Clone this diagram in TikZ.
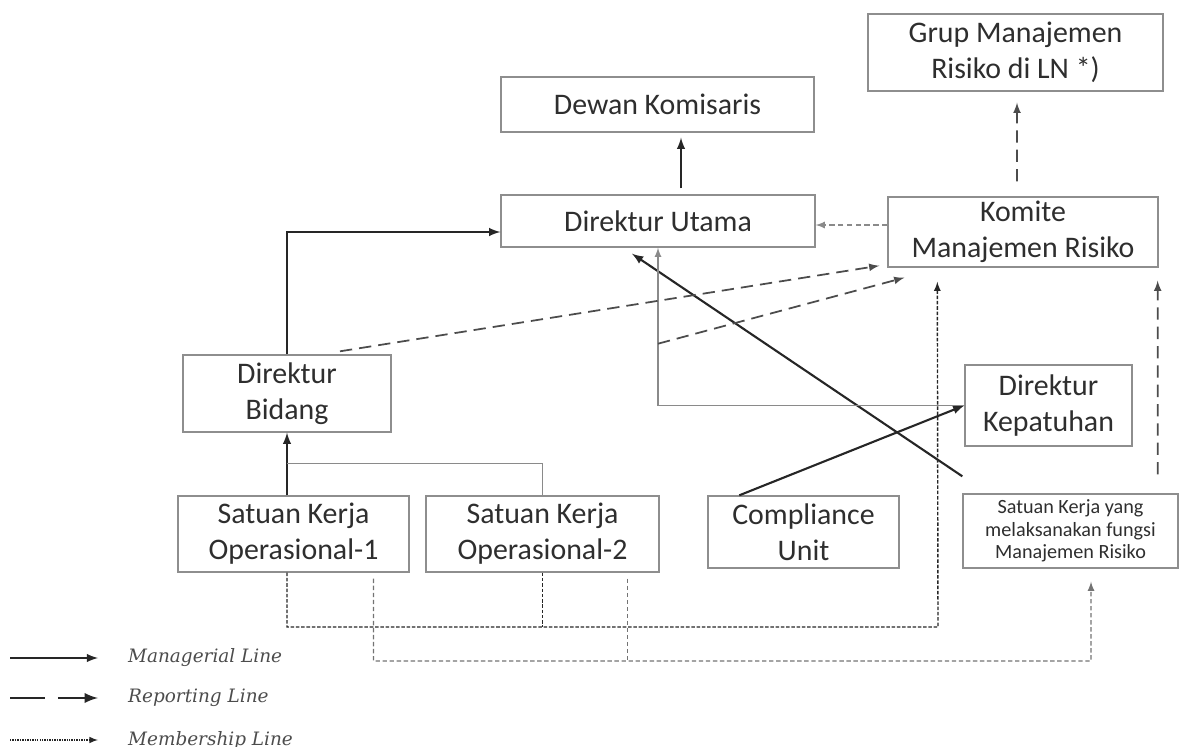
\documentclass[tikz,border=0pt]{standalone}
\usepackage{fontspec}
\newfontfamily\boxfont{Carlito}
\newfontfamily\legendfont{DejaVu Serif}
\usepackage{tikz}
\usetikzlibrary{arrows}
\definecolor{framegray}{HTML}{8E8E8E}
\definecolor{linegray}{HTML}{8A8A8A}
\definecolor{textgray}{HTML}{2E2E2E}

\begin{document}
\begin{tikzpicture}[x=0.02cm,y=-0.02cm,
	unit/.style={rectangle,draw=framegray,line width=0.8pt,inner sep=0pt,align=center,text=textgray,font=\boxfont\fontsize{17}{20.5}\selectfont},
	smallunit/.style={unit,font=\boxfont\fontsize{11.5}{12.8}\selectfont},
	mgr/.style={line width=1.2pt,draw=black!85,-latex},
	staff/.style={line width=0.8pt,draw=linegray},
	staffdash/.style={staff,dash pattern=on 3pt off 2pt,-latex},
	rep/.style={line width=1pt,draw=black!70,dash pattern=on 7pt off 4pt,-latex},
	mem/.style={line width=0.8pt,draw=black!85,dash pattern=on 2pt off 1pt},
	memlight/.style={line width=0.8pt,draw=black!55,dash pattern=on 2.5pt off 1.5pt},
	legend/.style={anchor=west,text=black!70,font=\legendfont\itshape\fontsize{10.5}{12}\selectfont}]
		\useasboundingbox (0,0) rectangle (1191,747);
%		\draw[help lines,step=50] (0,0) grid (1191,747);

		% boxes
		\path (1015.5,52.5) node(grup) [unit,minimum width=5.9cm,minimum height=1.54cm] {Grup Manajemen\\Risiko di LN *)};
		\path (657.5,104.5) node(dewan) [unit,minimum width=6.26cm,minimum height=1.1cm] {Dewan Komisaris};
		\path (658,221) node(utama) [unit,minimum width=6.28cm,minimum height=1.04cm] {Direktur Utama};
		\path (1023,232) node(komite) [unit,minimum width=5.4cm,minimum height=1.4cm] {Komite\\Manajemen Risiko};
		\path (287,393.5) node(bidang) [unit,minimum width=4.16cm,minimum height=1.54cm] {Direktur\\Bidang};
		\path (1048.5,405.5) node(kepatuhan) [unit,minimum width=3.34cm,minimum height=1.62cm] {Direktur\\Kepatuhan};
		\path (293.5,534) node(op1) [unit,minimum width=4.62cm,minimum height=1.52cm] {Satuan Kerja\\Operasional-1};
		\path (542.5,534) node(op2) [unit,minimum width=4.66cm,minimum height=1.52cm] {Satuan Kerja\\Operasional-2};
		\path (803.5,532) node(compliance) [unit,minimum width=3.82cm,minimum height=1.44cm] {Compliance\\Unit};
		\path (1070.5,531) node(skrisk) [smallunit,minimum width=4.3cm,minimum height=1.48cm] {Satuan Kerja yang\\melaksanakan fungsi\\Manajemen Risiko};

		% free ends
		\path (utama.west) +(0,11) coordinate (du_left);
		\path (utama.north) +(23,-6) coordinate (du_top);
		\path (utama.south) +(-26,6) coordinate (du_diag);
		\path (utama.south) +(0,96) coordinate (kp_rep);
		\path (compliance.north west) +(32,0) coordinate (cu_out);
		\path (skrisk.north west) +(0,-17) coordinate (sk_out);
		\path (skrisk.north east) +(-21,-19) coordinate (sk_rep);
		\path (skrisk.south) +(20.5,13) coordinate (sk_mem);
		\path (op2.north) +(0,-32) coordinate (join_y);
		\path (bidang.north) +(53,-3) coordinate (bd_rep);
		\path (komite.south west) +(-8,-2) coordinate (km_in1);
		\path (komite.south west) +(17,10) coordinate (km_in2);
		\path (komite.south west) +(50,14) coordinate (km_mem);
		\path (komite.south east) +(-1,13) coordinate (km_rep);
		\path (komite.north) +(-6,-15) coordinate (km_top);
		\path (grup.south) +(1.5,11) coordinate (gr_bot);
		\path (0,225) coordinate (kd_y);
		\path (938,627) coordinate (mem_corner);
		\path (1091,661) coordinate (mem2_corner);
		\path (op1.south) +(80,6) coordinate (op1_m);
		\path (op2.south east) +(-32,6) coordinate (op2_m);

		% managerial lines
		\draw[mgr] (bidang.north) |- (du_left);
		\draw[mgr] (op1.north -| bidang.south) -- (bidang.south);
		\draw[mgr,shorten >=0.1cm] (du_top) -- (dewan.south -| du_top);
		\draw[mgr] (cu_out) -- (kepatuhan.west);
		\draw[mgr] (sk_out) -- (du_diag);

		% thin lines
		\draw[staff] (op2.north) |- (bidang.south |- join_y);
		\draw[staff,-latex] (kepatuhan.west) -| (utama.south);
		\draw[staffdash] (komite.west |- kd_y) -- (utama.east |- kd_y);

		% reporting lines
		\draw[rep] (bd_rep) -- (km_in1);
		\draw[rep] (kp_rep) -- (km_in2);
		\draw[rep] (sk_rep) -- (km_rep);
		\draw[rep] (km_top) -- (gr_bot);

		% membership lines
		\draw[mem,-latex] (op1.south -| bidang.south) |- (mem_corner) -- (km_mem);
		\draw[mem] (op2.south) -- (op2.south |- mem_corner);
		\draw[memlight,-latex] (op1_m) |- (mem2_corner) -- (sk_mem);
		\draw[memlight] (op2_m) -- (op2_m |- mem2_corner);

		% legend
		\path (10,658) coordinate (mgr_a);
		\path (98,658) coordinate (mgr_b);
		\path (10,698) coordinate (rep_a);
		\path (98,698) coordinate (rep_b);
		\path (10,740) coordinate (mem_a);
		\path (98,740) coordinate (mem_b);
		\draw[mgr] (mgr_a) -- (mgr_b);
		\draw[line width=1.6pt,draw=black!85,dash pattern=on 0.7cm off 0.26cm,-latex] (rep_a) -- (rep_b);
		\draw[line width=0.7pt,draw=black!85,dash pattern=on 0.8pt off 0.6pt,-latex] (mem_a) -- (mem_b);
		\path (122,658) node(mgr_txt) [legend] {Managerial Line};
		\path (122,698) node(rep_txt) [legend] {Reporting Line};
		\path (122,740) node(mem_txt) [legend] {Membership Line};
	\end{tikzpicture}
\end{document}
